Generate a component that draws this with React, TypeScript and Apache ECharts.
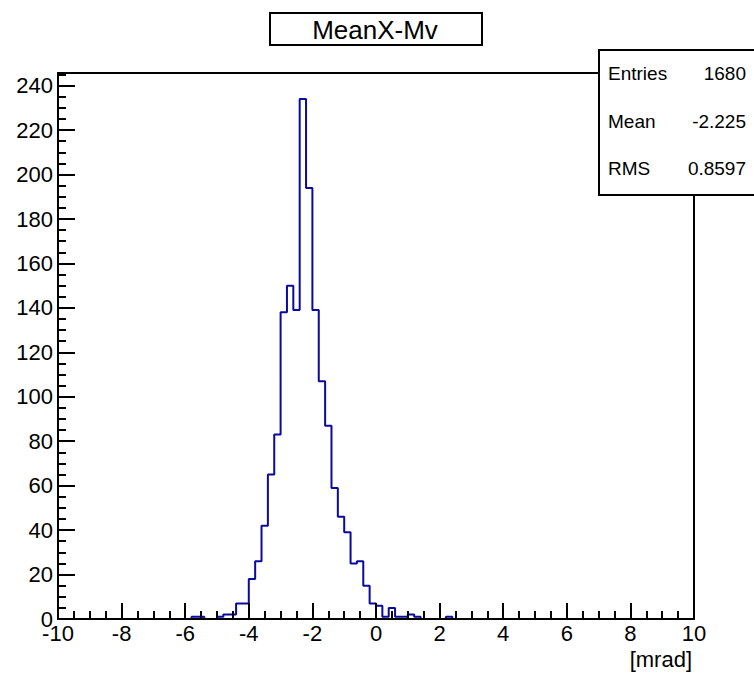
import React, { useEffect, useRef } from "react";
import * as echarts from "echarts";

const titleText = "MeanX-Mv";
const xAxisTitle = "[mrad]";
const xMin = -10;
const xMax = 10;
const binWidth = 0.2;
const yMax = 245.7;
// 100 bins of width 0.2 from -10 to 10
const counts = [
  0, 0, 0, 0, 0, 0, 0, 0, 0, 0,
  0, 0, 0, 0, 0, 0, 0, 0, 0, 0,
  0, 1, 1, 0, 0, 1, 2, 2, 7, 7,
  18, 26, 42, 65, 83, 138, 150, 139, 234, 194,
  139, 107, 87, 59, 46, 39, 25, 26, 15, 7,
  6, 1, 5, 1, 1, 2, 1, 0, 0, 0,
  0, 1, 0, 0, 0, 0, 0, 0, 0, 0,
  0, 0, 0, 0, 0, 0, 0, 0, 0, 0,
  0, 0, 0, 0, 0, 0, 0, 0, 0, 0,
  0, 0, 0, 0, 0, 0, 0, 0, 0, 0,
];
const statsLabels = ["Entries", "Mean", "RMS"];
const statsValues = ["1680", "-2.225", "0.8597"];

const FONT = '"Liberation Sans", Arial, Helvetica, sans-serif';

export default function App() {
  const ref = useRef<HTMLDivElement>(null);
  useEffect(() => {
    const chart = echarts.init(ref.current!, null, { renderer: "svg" });
    const data: number[][] = counts.map((c, i) => [
      Math.round((xMin + i * binWidth) * 1000) / 1000,
      c,
    ]);
    data.push([xMax, counts[counts.length - 1]]);

    const axisCommon = {
      type: "value" as const,
      z: 5,
      axisLine: { show: true, onZero: false, lineStyle: { color: "#000", width: 2 } },
      minorTick: { show: true, splitNumber: 4, length: 8, lineStyle: { color: "#000", width: 2 } },
      splitLine: { show: false },
      minorSplitLine: { show: false },
    };

    const statRowsY = [73, 121, 168];
    const graphics: any[] = [
      {
        type: "rect",
        z: 100,
        shape: { x: 270, y: 13, width: 212, height: 32 },
        style: { fill: "#fff", stroke: "#000", lineWidth: 2 },
      },
      {
        type: "text",
        z: 101,
        x: 375,
        y: 30,
        style: {
          text: titleText,
          font: `26px ${FONT}`,
          fill: "#000",
          align: "center",
          verticalAlign: "middle",
          textAlign: "center",
          textVerticalAlign: "middle",
        },
      },
      {
        type: "rect",
        z: 100,
        shape: { x: 599, y: 50, width: 170, height: 145 },
        style: { fill: "#fff", stroke: "#000", lineWidth: 2 },
      },
      {
        type: "text",
        z: 101,
        x: 692,
        y: 659,
        style: {
          text: xAxisTitle,
          font: `22px ${FONT}`,
          fill: "#000",
          align: "right",
          verticalAlign: "middle",
          textAlign: "right",
          textVerticalAlign: "middle",
        },
      },
    ];
    statsLabels.forEach((lab, i) => {
      graphics.push({
        type: "text",
        z: 101,
        x: 608,
        y: statRowsY[i],
        style: {
          text: lab,
          font: `19px ${FONT}`,
          fill: "#000",
          align: "left",
          verticalAlign: "middle",
          textAlign: "left",
          textVerticalAlign: "middle",
        },
      });
      graphics.push({
        type: "text",
        z: 101,
        x: 746,
        y: statRowsY[i],
        style: {
          text: statsValues[i],
          font: `19px ${FONT}`,
          fill: "#000",
          align: "right",
          verticalAlign: "middle",
          textAlign: "right",
          textVerticalAlign: "middle",
        },
      });
    });

    chart.setOption({
      animation: false,
      backgroundColor: "#fff",
      grid: {
        left: 58,
        top: 73,
        width: 636,
        height: 546,
        show: true,
        borderColor: "#000",
        borderWidth: 2,
        backgroundColor: "transparent",
        z: 4,
      },
      xAxis: {
        ...axisCommon,
        min: xMin,
        max: xMax,
        interval: 2,
        axisTick: { show: true, inside: true, length: 16, lineStyle: { color: "#000", width: 2 } },
        axisLabel: { fontSize: 22, color: "#000", fontFamily: FONT, margin: 3 },
      },
      yAxis: {
        ...axisCommon,
        min: 0,
        max: yMax,
        interval: 20,
        axisTick: { show: true, inside: true, length: 17, lineStyle: { color: "#000", width: 2 } },
        axisLabel: { fontSize: 22, color: "#000", fontFamily: FONT, margin: 5, showMaxLabel: false },
      },
      series: [
        {
          type: "line",
          step: "end",
          data,
          symbol: "none",
          z: 2,
          lineStyle: { color: "#0a0a9c", width: 2 },
        },
      ],
      graphic: graphics,
    });
    return () => chart.dispose();
  }, []);
  return (
    <div
      ref={ref}
      style={{ position: "fixed", left: 0, top: 0, width: 754, height: 674 }}
    />
  );
}
